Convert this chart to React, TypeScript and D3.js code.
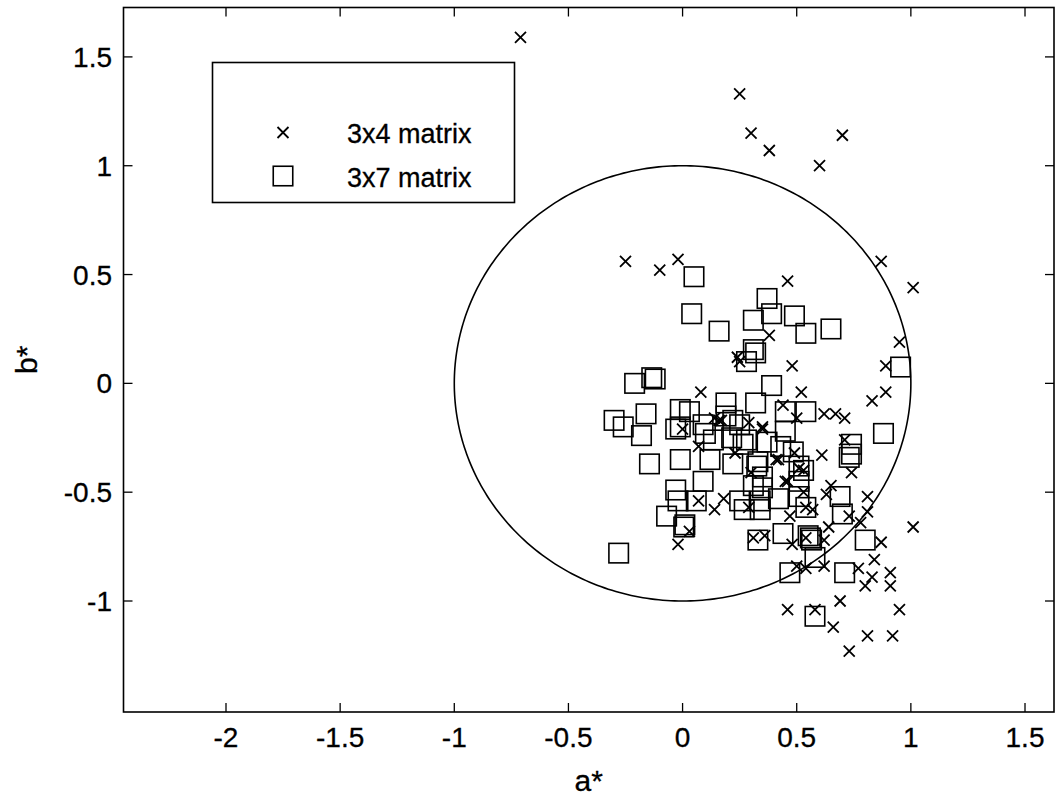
import React from "react";
import * as d3 from "d3";

// 3x4 matrix (× markers): [a*, b*]
const matrix3x4: [number, number][] = [
  [-0.71, 1.59], [0.25, 1.33], [0.30, 1.15], [0.38, 1.07], [0.70, 1.14], [0.60, 1.00],
  [-0.25, 0.56], [-0.10, 0.52], [-0.02, 0.57], [0.46, 0.47], [0.87, 0.56], [1.01, 0.44],
  [0.38, 0.22], [0.24, 0.12], [0.25, 0.10], [0.48, 0.08], [0.95, 0.19], [0.89, 0.08],
  [0.08, -0.04], [0.52, -0.04], [0.89, -0.04], [0.83, -0.08],
  [0.62, -0.14], [0.44, -0.10], [0.50, -0.16], [0.35, -0.20], [0.29, -0.18], [0.14, -0.16],
  [0.16, -0.17], [0.67, -0.14], [0.71, -0.16], [0.35, -0.21], [0.71, -0.26],
  [0.61, -0.33], [0.74, -0.41], [1.01, -0.66], [0.81, -0.52], [0.81, -0.59], [0.87, -0.73],
  [0.84, -0.81], [0.91, -0.87], [0.91, -0.93], [0.83, -0.89], [0.80, -0.93], [0.77, -0.85],
  [0.69, -1.00], [0.95, -1.04], [0.46, -1.04], [0.58, -1.04], [0.66, -1.12], [0.81, -1.16],
  [0.92, -1.16], [0.73, -1.23], [0.78, -0.64], [0.73, -0.61], [0.64, -0.66], [0.65, -0.47],
  [0.63, -0.51], [0.46, -0.45], [0.53, -0.50], [0.57, -0.58], [0.48, -0.74], [0.54, -0.85],
  [0.62, -0.84], [0.50, -0.84], [0.62, -0.72], [0.31, -0.71], [0.36, -0.70],
  [0.00, -0.21], [0.07, -0.29], [0.17, -0.17], [0.23, -0.32], [0.30, -0.41], [0.42, -0.35],
  [0.45, -0.45], [0.49, -0.32], [0.53, -0.40], [0.18, -0.53], [0.14, -0.58],
  [0.07, -0.54], [0.29, -0.57], [0.47, -0.61], [0.54, -0.57], [-0.02, -0.74], [0.03, -0.68],
  [0.54, -0.71], [0.41, -0.35], [0.51, -0.39],
];

// 3x7 matrix (□ markers): [a*, b*]
const matrix3x7: [number, number][] = [
  [-0.28, -0.78], [-0.30, -0.17], [-0.26, -0.20], [-0.21, 0.00], [-0.135, 0.026], [-0.12, 0.02],
  [0.05, 0.49], [0.04, 0.32], [0.16, 0.24], [0.37, 0.39], [0.39, 0.32], [0.31, 0.29],
  [0.49, 0.31], [0.54, 0.23], [0.65, 0.25], [0.955, 0.075],
  [0.31, 0.155], [0.32, 0.14], [0.28, 0.10], [0.39, -0.01], [0.32, -0.09], [0.19, -0.09],
  [-0.16, -0.14], [-0.01, -0.12], [0.03, -0.13], [0.45, -0.13], [0.54, -0.13],
  [0.88, -0.23], [0.45, -0.22], [0.74, -0.28],
  [0.69, -0.52], [0.70, -0.60], [0.44, -0.69], [0.56, -0.71], [0.565, -0.72], [0.55, -0.70],
  [0.58, -0.80], [0.80, -0.72], [0.71, -0.87], [0.47, -0.87], [0.58, -1.07], [0.73, -0.34],
  [0.74, -0.325], [0.33, -0.72],
  [-0.18, -0.24], [-0.145, -0.37], [-0.01, -0.35], [-0.01, -0.20], [-0.03, -0.21], [0.09, -0.19],
  [0.10, -0.23], [0.19, -0.15], [0.22, -0.17], [0.25, -0.19], [0.135, -0.26], [0.215, -0.25],
  [0.28, -0.26], [0.265, -0.28], [0.37, -0.27], [0.43, -0.29], [0.485, -0.315], [0.51, -0.38],
  [0.53, -0.40], [0.12, -0.35], [0.22, -0.37], [0.33, -0.36], [0.325, -0.38], [0.35, -0.43],
  [0.31, -0.47], [0.35, -0.48], [0.09, -0.45], [-0.03, -0.49], [-0.02, -0.54], [0.06, -0.54],
  [-0.07, -0.61], [0.01, -0.65], [0.005, -0.66], [0.25, -0.54], [0.27, -0.58], [0.34, -0.54],
  [0.34, -0.58], [0.42, -0.53], [0.51, -0.52], [0.54, -0.57], [0.51, -0.45],
];

const xTicks = [-2, -1.5, -1, -0.5, 0, 0.5, 1, 1.5];
const yTicks = [-1, -0.5, 0, 0.5, 1, 1.5];
const legendLabels = ["3x4 matrix", "3x7 matrix"];
const xLabel = "a*";
const yLabel = "b*";
const circleRadius = 1;

const W = 1055;
const H = 802;
const L = 123.5, R = 1054, T = 7.5, B = 712;
const FONT = "'Liberation Sans', Arial, Helvetica, sans-serif";

export default function App() {
  const x = d3.scaleLinear().domain([-2.449, 1.627]).range([L, R]);
  const y = d3.scaleLinear().domain([-1.51, 1.727]).range([B, T]);

  const circlePts = d3.range(0, 361, 1).map((deg) => {
    const t = (deg * Math.PI) / 180;
    return [circleRadius * Math.cos(t), circleRadius * Math.sin(t)] as [number, number];
  });
  const circlePath = d3
    .line<[number, number]>()
    .x((d) => x(d[0]))
    .y((d) => y(d[1]))(circlePts) as string;

  const tickLen = 9;
  const xs = 5.5; // half-size of × marker
  const sq = 19.5; // square size

  const cross = (cx: number, cy: number, key: string) => (
    <path
      key={key}
      d={`M${cx - xs},${cy - xs}L${cx + xs},${cy + xs}M${cx - xs},${cy + xs}L${cx + xs},${cy - xs}`}
      stroke="#000"
      strokeWidth={1.8}
      fill="none"
    />
  );
  const square = (cx: number, cy: number, key: string) => (
    <rect
      key={key}
      x={cx - sq / 2}
      y={cy - sq / 2}
      width={sq}
      height={sq}
      stroke="#000"
      strokeWidth={1.6}
      fill="none"
    />
  );

  return (
    <svg
      width={W}
      height={H}
      style={{ position: "absolute", left: 0, top: 0, background: "#fff" }}
      fontFamily={FONT}
    >
      <rect x={0} y={0} width={W} height={H} fill="#fff" />
      {/* circle */}
      <path d={circlePath} fill="none" stroke="#000" strokeWidth={1.6} />

      {/* markers */}
      {matrix3x7.map((d, i) => square(x(d[0]), y(d[1]), "s" + i))}
      {matrix3x4.map((d, i) => cross(x(d[0]), y(d[1]), "x" + i))}

      {/* axes box */}
      <rect x={L} y={T} width={R - L} height={B - T} fill="none" stroke="#000" strokeWidth={1.6} />

      {/* x ticks */}
      {xTicks.map((t) => (
        <g key={"xt" + t}>
          <line x1={x(t)} x2={x(t)} y1={B} y2={B - tickLen} stroke="#000" strokeWidth={1.3} />
          <line x1={x(t)} x2={x(t)} y1={T} y2={T + tickLen} stroke="#000" strokeWidth={1.3} />
          <text x={x(t)} y={747} fontSize={28} textAnchor="middle" fill="#000" stroke="#000" strokeWidth={0.3}>
            {String(t)}
          </text>
        </g>
      ))}
      {/* y ticks */}
      {yTicks.map((t) => (
        <g key={"yt" + t}>
          <line x1={L} x2={L + tickLen} y1={y(t)} y2={y(t)} stroke="#000" strokeWidth={1.3} />
          <line x1={R} x2={R - tickLen} y1={y(t)} y2={y(t)} stroke="#000" strokeWidth={1.3} />
          <text x={112} y={y(t) + 10} fontSize={28} textAnchor="end" fill="#000" stroke="#000" strokeWidth={0.3}>
            {String(t)}
          </text>
        </g>
      ))}

      {/* axis labels */}
      <text x={(L + R) / 2} y={791} fontSize={30} textAnchor="middle" fill="#000" stroke="#000" strokeWidth={0.3}>
        {xLabel}
      </text>
      <text
        transform={`translate(37,${(T + B) / 2}) rotate(-90)`}
        fontSize={30}
        textAnchor="middle"
        fill="#000"
        stroke="#000"
        strokeWidth={0.3}
      >
        {yLabel}
      </text>

      {/* legend */}
      <rect x={212.5} y={62.5} width={302} height={140} fill="#fff" stroke="#000" strokeWidth={1.6} />
      {cross(283, 132.5, "lx")}
      {square(283, 176, "ls")}
      <text x={347} y={143} fontSize={27} fill="#000" stroke="#000" strokeWidth={0.3}>
        {legendLabels[0]}
      </text>
      <text x={347} y={187} fontSize={27} fill="#000" stroke="#000" strokeWidth={0.3}>
        {legendLabels[1]}
      </text>
    </svg>
  );
}
